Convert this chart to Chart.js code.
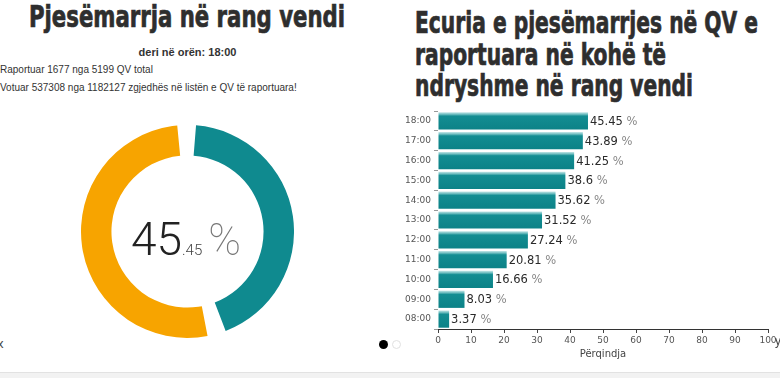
<!doctype html>
<html><head><meta charset="utf-8">
<script src="https://cdn.jsdelivr.net/npm/chart.js@4/dist/chart.umd.min.js"></script>
<style>
* { margin:0; padding:0; box-sizing:border-box; }
html,body { width:780px; height:378px; overflow:hidden; background:#fff;
  font-family:'Liberation Sans', Arial, sans-serif; color:#333; }
.abs { position:absolute; white-space:nowrap; }
.title { font-family:'Liberation Sans Narrow','DejaVu Sans Condensed',sans-serif; font-weight:700;
  font-size:30px; line-height:1; color:#2e2e2e; transform-origin:0 0; -webkit-text-stroke:0.7px #2e2e2e; }
.small { font-size:10px; line-height:1; }
.center-num { font-family:Roboto, Lato, sans-serif; font-weight:300; line-height:1; }
.dot { position:absolute; width:9px; height:9px; border-radius:50%; }
.footer { position:absolute; left:0; top:372px; width:780px; height:6px; background:#f2f2f2; border-top:1px solid #e2e2e2; }
</style></head>
<body>
<div class="abs title" id="t1" style="left:29px; top:2px;">Pjesëmarrja në rang vendi</div>
<div class="abs small" style="left:0; width:375px; top:47px; text-align:center; font-weight:700; font-size:11px;">deri në orën: 18:00</div>
<div class="abs small" style="left:0; top:65px;">Raportuar 1677 nga 5199 QV total</div>
<div class="abs small" style="left:0; top:83px;">Votuar 537308 nga 1182127 zgjedhës në listën e QV të raportuara!</div>

<canvas id="donut" class="abs" width="213" height="213" style="left:81px; top:125px; width:213px; height:213px;"></canvas>
<div class="abs center-num" style="left:131px; top:216px; color:#222;">
  <span style="font-size:46px;">45</span><span style="font-size:15px; color:#444;">.45</span><span style="font-size:44px; font-weight:100; color:#777; margin-left:6px;">%</span>
</div>

<div class="abs title" id="t2" style="left:415px; top:8px;">Ecuria e pjesëmarrjes në QV e</div>
<div class="abs title" id="t3" style="left:415px; top:40px;">raportuara në kohë të</div>
<div class="abs title" id="t4" style="left:415px; top:71px;">ndryshme në rang vendi</div>

<canvas id="bars" class="abs" width="400" height="265" style="left:380px; top:100px; width:400px; height:265px;"></canvas>

<div class="abs" style="left:-3px; top:336px; font-size:13px; color:#444;">x</div>
<div class="abs" style="left:775px; top:334px; font-size:12px; color:#444;">y</div>
<div class="dot" style="left:379px; top:340px; background:#000;"></div>
<div class="dot" style="left:392px; top:340px; background:#fff; border:1px solid #e0e0e0;"></div>
<div class="footer"></div>

<script>
// hours shown top to bottom
const hours = ['18:00', '17:00', '16:00', '15:00', '14:00', '13:00', '12:00', '11:00', '10:00', '09:00', '08:00'];
const turnout = [45.45, 43.89, 41.25, 38.6, 35.62, 31.52, 27.24, 20.81, 16.66, 8.03, 3.37];
const axisMax = 100;
const axisStep = 10;
const donutValues = [45.45, 54.55];
const donutLabels = ['Votuar', 'Pa votuar'];

const TEAL = '#0f8a8f';
const ORANGE = '#f7a400';

// squeeze the titles to the reference width
const s1 = 316 / document.getElementById('t1').getBoundingClientRect().width;
const s2 = 343 / document.getElementById('t2').getBoundingClientRect().width;
document.getElementById('t1').style.transform = `scaleX(${s1})`;
for (const id of ['t2', 't3', 't4']) document.getElementById(id).style.transform = `scaleX(${s2})`;

new Chart(document.getElementById('donut'), {
  type: 'doughnut',
  data: {
    labels: donutLabels,
    datasets: [{ data: donutValues, backgroundColor: [TEAL, ORANGE], borderWidth: 0, spacing: 10 }]
  },
  options: {
    responsive: false, animation: false, cutout: '70%',
    plugins: { legend: { display: false }, tooltip: { enabled: false } }
  }
});

function barFill(ctx) {
  const chart = ctx.chart;
  const y = chart.scales && chart.scales.y;
  if (!y || ctx.type !== 'data') return TEAL;
  const c = y.getPixelForValue(ctx.dataIndex);
  const h = Math.abs(y.getPixelForValue(1) - y.getPixelForValue(0)) * 0.87;
  if (!isFinite(c) || !isFinite(h) || h <= 0) return TEAL;
  const top = c - h / 2;
  const g = chart.ctx.createLinearGradient(0, top, 0, top + h);
  g.addColorStop(0, '#c4e6e7');
  g.addColorStop(0.12, '#6cbcbf');
  g.addColorStop(0.22, '#138d92');
  g.addColorStop(1, '#0c8287');
  return g;
}

const valueLabels = {
  id: 'valueLabels',
  afterDatasetsDraw(chart) {
    const { ctx } = chart;
    const meta = chart.getDatasetMeta(0);
    ctx.save();
    ctx.textBaseline = 'middle';
    meta.data.forEach((bar, i) => {
      const num = String(chart.data.datasets[0].data[i]);
      ctx.font = '11.5px "DejaVu Sans", Verdana, sans-serif';
      ctx.fillStyle = '#2a2a2a';
      ctx.fillText(num, bar.x + 2, bar.y + 1);
      const w = ctx.measureText(num + ' ').width;
      ctx.fillStyle = '#888';
      ctx.fillText('%', bar.x + 2 + w, bar.y + 1);
    });
    ctx.restore();
  }
};

new Chart(document.getElementById('bars'), {
  type: 'bar',
  data: {
    labels: hours,
    datasets: [{ data: turnout, backgroundColor: barFill, barPercentage: 0.87, categoryPercentage: 1 }]
  },
  options: {
    indexAxis: 'y', responsive: false, animation: false,
    layout: { padding: { top: 11, right: 12, bottom: 5 } },
    plugins: { legend: { display: false }, tooltip: { enabled: false } },
    scales: {
      x: {
        min: 0, max: axisMax,
        ticks: { stepSize: axisStep, color: '#555', padding: 2, font: { family: 'DejaVu Sans', size: 9 } },
        grid: { drawOnChartArea: false, drawTicks: true, tickLength: 4, color: '#444' },
        border: { display: true, color: '#333' },
        title: { display: true, text: 'Përqindja', color: '#444', padding: 0, font: { family: 'DejaVu Sans', size: 10 } },
        afterFit(scale) { scale.height = 31; }
      },
      y: {
        ticks: { color: '#555', padding: 3, font: { family: 'DejaVu Sans', size: 9 } },
        grid: { drawOnChartArea: false, drawTicks: true, tickLength: 4, color: '#999' },
        border: { display: false },
        afterFit(scale) { scale.width = 58; }
      }
    }
  },
  plugins: [valueLabels]
});
</script>
</body></html>
